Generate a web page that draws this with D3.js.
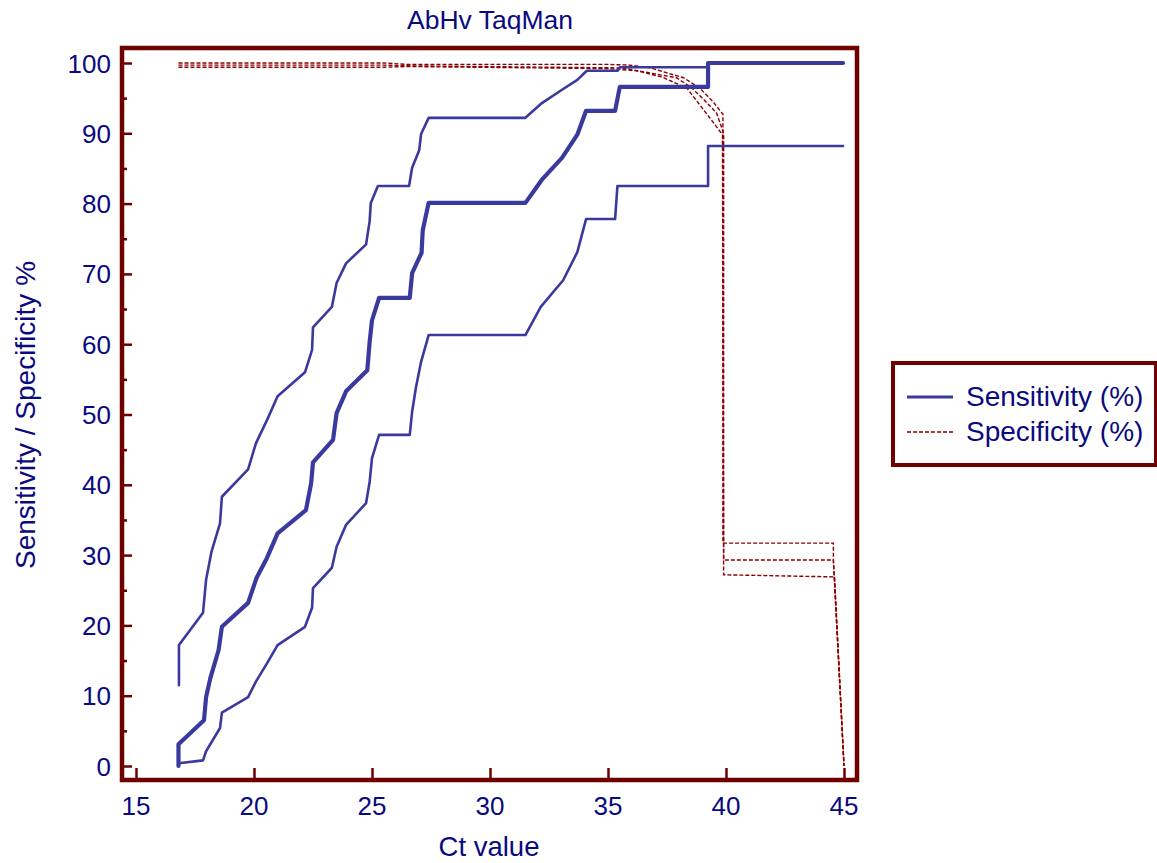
<!DOCTYPE html>
<html>
<head>
<meta charset="utf-8">
<script src="https://cdn.jsdelivr.net/npm/d3@7"></script>
<style>
  html, body { margin: 0; padding: 0; background: #fff; }
  svg { display: block; }
</style>
</head>
<body>
<svg id="chart" width="1157" height="863"></svg>
<script>
// ---- Data (Ct value, %) ----
const title = "AbHv TaqMan";
const xLabel = "Ct value";
const yLabel = "Sensitivity / Specificity %";
const xTicks = [15, 20, 25, 30, 35, 40, 45];
const yTicks = [0, 10, 20, 30, 40, 50, 60, 70, 80, 90, 100];
const yMinorTicks = [5, 15, 25, 35, 45, 55, 65, 75, 85, 95];
const legendLabels = ["Sensitivity (%)", "Specificity (%)"];

const sensitivity = [[16.8,0],[16.8,3.1],[17.88,6.5],[17.97,9.8],[18.15,12.5],[18.5,16.5],[18.64,19.8],[19.75,23.2],[20.1,26.7],[20.55,29.6],[21.0,33.1],[22.2,36.4],[22.42,40.2],[22.5,43.2],[23.35,46.4],[23.5,50.2],[23.9,53.3],[24.8,56.3],[24.9,60.3],[25.0,63.4],[25.3,66.6],[26.6,66.6],[26.7,70.1],[27.1,73.0],[27.15,76.2],[27.4,80.1],[31.5,80.1],[32.2,83.4],[33.05,86.5],[33.7,89.8],[34.07,93.2],[35.3,93.2],[35.5,96.6],[39.24,96.6],[39.24,100],[44.96,100]];
const sensUpper = [[16.82,11.5],[16.82,17.2],[17.84,21.8],[17.97,26.5],[18.2,30.5],[18.56,34.5],[18.64,38.3],[19.75,42.2],[20.08,45.9],[20.55,49.2],[21.0,52.6],[22.16,56.0],[22.46,59.2],[22.5,62.4],[23.3,65.3],[23.5,68.7],[23.9,71.5],[24.75,74.2],[24.9,77.5],[24.95,80.1],[25.25,82.5],[26.57,82.5],[26.7,85.1],[27.0,87.6],[27.08,89.9],[27.4,92.2],[31.5,92.2],[32.2,94.3],[33.05,96.2],[33.7,97.6],[34.1,98.9],[35.4,98.9],[35.5,99.4],[39.24,99.4],[39.24,100],[44.96,100]];
const sensLower = [[16.82,0.4],[17.84,0.8],[17.97,2.1],[18.56,5.4],[18.64,7.6],[19.75,9.8],[20.08,12.0],[20.55,14.6],[21.0,17.2],[22.16,19.8],[22.46,22.5],[22.5,25.3],[23.3,28.2],[23.5,31.2],[23.9,34.3],[24.75,37.4],[24.9,40.4],[25.0,43.8],[25.3,47.1],[26.6,47.1],[26.7,50.4],[26.86,53.8],[27.08,57.5],[27.4,61.3],[31.5,61.3],[32.15,65.3],[33.1,69.1],[33.7,73.1],[34.07,77.8],[35.3,77.8],[35.4,82.5],[39.24,82.5],[39.24,88.2],[44.96,88.2]];

const specificity = [[16.8,99.7],[25.5,99.7],[26.5,99.6],[35.6,99.3],[37.9,97.9],[38.5,96.6],[39.0,95.0],[39.6,92.9],[39.9,90.0],[39.9,29.3],[44.55,29.3],[45,0]];
const specUpper = [[16.8,100],[25.5,100],[26.5,99.8],[35.0,99.8],[35.9,99.7],[36.8,99.3],[38.2,97.9],[38.9,96.4],[39.45,94.5],[39.87,92.7],[39.87,31.7],[44.55,31.7],[44.55,29.3],[45,0]];
const specLower = [[16.8,99.4],[25.5,99.4],[26.5,99.5],[35.0,99.2],[36.2,98.9],[37.3,98.0],[38.35,96.4],[38.9,94.0],[39.45,91.6],[39.85,89.8],[39.9,27.2],[44.6,26.9],[45,0]];

// ---- Layout ----
const svg = d3.select("#chart");
const frame = { left: 122, top: 48, right: 857, bottom: 780 };
const x = d3.scaleLinear().domain([15, 45]).range([136, 844]);
const y = d3.scaleLinear().domain([0, 100]).range([766, 63]);

const frameColor = "#6e0000";
const textColor = "#0a0a80";
const blue = "#3a3a9e";
const red = "#8b0000";
const font = "'Liberation Sans', Arial, sans-serif";

const line = d3.line().x(d => x(d[0])).y(d => y(d[1]));

// clip to frame
svg.append("defs").append("clipPath").attr("id", "clip")
  .append("rect").attr("x", frame.left).attr("y", frame.top)
  .attr("width", frame.right - frame.left).attr("height", frame.bottom - frame.top);

const plot = svg.append("g").attr("clip-path", "url(#clip)");

// specificity (dashed)
[specUpper, specificity, specLower].forEach(s => {
  plot.append("path").datum(s).attr("d", line)
    .attr("fill", "none").attr("stroke", red).attr("stroke-width", 1.4)
    .attr("stroke-dasharray", "4,2");
});

// sensitivity CI (thin) and estimate (thick)
[sensUpper, sensLower].forEach(s => {
  plot.append("path").datum(s).attr("d", line)
    .attr("fill", "none").attr("stroke", blue).attr("stroke-width", 2.6)
    .attr("stroke-linejoin", "round").attr("stroke-linecap", "round");
});
plot.append("path").datum(sensitivity).attr("d", line)
  .attr("fill", "none").attr("stroke", blue).attr("stroke-width", 4.2)
  .attr("stroke-linejoin", "round").attr("stroke-linecap", "round");

// ticks
const xAxis = d3.axisTop(x).tickValues(xTicks).tickSize(12).tickFormat("");
svg.append("g").attr("transform", `translate(0,${frame.bottom})`).call(xAxis)
  .call(g => g.select(".domain").remove())
  .call(g => g.selectAll("line").attr("stroke", frameColor).attr("stroke-width", 2.5));

const yAxis = d3.axisRight(y).tickValues(yTicks).tickSize(10).tickFormat("");
svg.append("g").attr("transform", `translate(${frame.left},0)`).call(yAxis)
  .call(g => g.select(".domain").remove())
  .call(g => g.selectAll("line").attr("stroke", frameColor).attr("stroke-width", 2.5));

const yAxisMinor = d3.axisRight(y).tickValues(yMinorTicks).tickSize(5).tickFormat("");
svg.append("g").attr("transform", `translate(${frame.left},0)`).call(yAxisMinor)
  .call(g => g.select(".domain").remove())
  .call(g => g.selectAll("line").attr("stroke", frameColor).attr("stroke-width", 2.5));

// frame
svg.append("rect").attr("x", frame.left).attr("y", frame.top)
  .attr("width", frame.right - frame.left).attr("height", frame.bottom - frame.top)
  .attr("fill", "none").attr("stroke", frameColor).attr("stroke-width", 4.5);

// tick labels
svg.append("g").selectAll("text").data(xTicks).join("text")
  .attr("x", d => x(d)).attr("y", 815)
  .attr("text-anchor", "middle").attr("font-family", font).attr("font-size", 26)
  .attr("fill", textColor).text(d => d);

svg.append("g").selectAll("text").data(yTicks).join("text")
  .attr("x", 111).attr("y", d => y(d) + 9.5)
  .attr("text-anchor", "end").attr("font-family", font).attr("font-size", 26)
  .attr("fill", textColor).text(d => d);

// titles
svg.append("text").attr("x", 490).attr("y", 29).attr("text-anchor", "middle")
  .attr("font-family", font).attr("font-size", 26.5).attr("fill", textColor).text(title);
svg.append("text").attr("x", 489).attr("y", 856).attr("text-anchor", "middle")
  .attr("font-family", font).attr("font-size", 27.5).attr("fill", textColor).text(xLabel);
svg.append("text").attr("transform", "translate(35,415) rotate(-90)").attr("text-anchor", "middle")
  .attr("font-family", font).attr("font-size", 28).attr("fill", textColor).text(yLabel);

// legend
const lg = svg.append("g");
lg.append("rect").attr("x", 893).attr("y", 363).attr("width", 263).attr("height", 102)
  .attr("fill", "#fff").attr("stroke", frameColor).attr("stroke-width", 4);
lg.append("line").attr("x1", 907).attr("x2", 953).attr("y1", 397).attr("y2", 397)
  .attr("stroke", blue).attr("stroke-width", 3);
lg.append("line").attr("x1", 907).attr("x2", 953).attr("y1", 432).attr("y2", 432)
  .attr("stroke", red).attr("stroke-width", 1.4).attr("stroke-dasharray", "4,2");
lg.selectAll("text").data(legendLabels).join("text")
  .attr("x", 966).attr("y", (d, i) => 406 + i * 35)
  .attr("font-family", font).attr("font-size", 28).attr("fill", textColor).text(d => d);
</script>
</body>
</html>
